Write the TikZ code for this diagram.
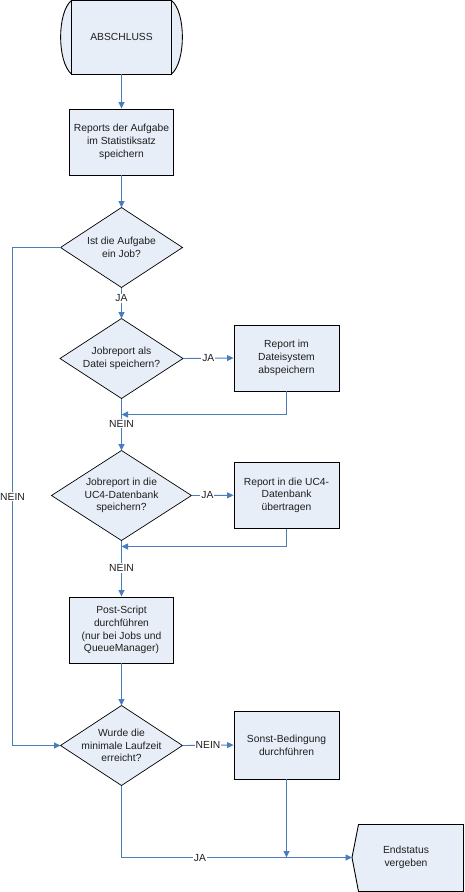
\documentclass[tikz,border=0pt]{standalone}
\usepackage{fontspec}
\setmainfont{Liberation Sans}
\usetikzlibrary{shapes.geometric,arrows.meta}
\definecolor{fillb}{RGB}{232,238,248}
\definecolor{lineb}{RGB}{74,126,187}
\definecolor{txt}{RGB}{30,30,30}
\begin{document}
\begin{tikzpicture}[x=1pt,y=-1pt,
  font=\fontsize{10.3}{12.7}\selectfont,
  every node/.style={text=txt},
  box/.style={draw=black, fill=fillb, line width=0.9pt, minimum width=104, minimum height=66, align=center, inner sep=0pt},
  dia/.style={align=center, inner sep=0pt, outer sep=0pt},
  dshape/.style={draw=black, fill=fillb, line width=0.7pt},
  conn/.style={draw=lineb, line width=0.9pt},
  arr/.style={conn, -{Triangle[length=6.5pt,width=6pt]}},
  lbl/.style={fill=white, inner sep=1pt}
]
\useasboundingbox (0,0) rectangle (464,892);

% start terminal
\path[fill=fillb, draw=black, line width=0.9pt] (71.5,0.5) .. controls (57,12) and (57,62) .. (71.5,74) -- (171.5,74) .. controls (186,62) and (186,12) .. (171.5,0.5) -- cycle;
\node (start) [draw=black, fill=fillb, line width=0.9pt, minimum width=100, minimum height=73.5, inner sep=0pt] at (121.5,37.25) {ABSCHLUSS};

\node (b1) [box] at (121.5,142) {Reports der Aufgabe\\im Statistiksatz\\speichern};

% diamonds: invisible rectangles, diamond drawn through their anchors
\node (d1) [dia, minimum width=122, minimum height=80] at (121.5,247.5) {};
\node (d2) [dia, minimum width=123, minimum height=80] at (121.5,358.5) {};
\node (d3) [dia, minimum width=140, minimum height=90] at (121.5,495.5) {};
\node (d4) [dia, minimum width=122, minimum height=80] at (121.5,745.5) {};
\foreach \d in {d1,d2,d3,d4}
  \path[dshape] (\d.north) -- (\d.east) -- (\d.south) -- (\d.west) -- cycle;
\node (t1) [align=center, inner sep=0pt] at (d1) {Ist die Aufgabe\\ein Job?};
\node (t2) [align=center, inner sep=0pt] at (d2) {Jobreport als\\Datei speichern?};
\node (t3) [align=center, inner sep=0pt] at (d3) {Jobreport in die\\UC4-Datenbank\\speichern?};
\node (t4) [align=center, inner sep=0pt] at (d4) {Wurde die\\minimale Laufzeit\\erreicht?};

\node (b2) [box, minimum width=105] at (286.5,358) {Report im\\Dateisystem\\abspeichern};
\node (b3) [box, minimum width=105] at (286.5,495.3) {Report in die UC4-\\Datenbank\\übertragen};
\node (b4) [box] at (121.5,630) {Post-Script\\durchführen\\(nur bei Jobs und\\QueueManager)};
\node (b5) [box, minimum width=105, minimum height=68] at (286.5,745) {Sonst-Bedingung\\durchführen};

% end shape
\path[fill=fillb, draw=black, line width=0.9pt] (358.5,824.5) -- (463.5,824.5) -- (463.5,891.5) -- (358.5,891.5) -- (352,857.5) -- cycle;
\node (end) [align=center, inner sep=0pt] at (406,857) {Endstatus\\vergeben};
\coordinate (endtip) at (352,857.5);

% junction coordinates
\coordinate (j1) at (121.5,414.5);
\coordinate (j2) at (121.5,546.5);
\coordinate (j3) at (286.5,857.5);
\coordinate (c1) at (12.5,247.5);
\coordinate (c2) at (12.5,745.5);
\coordinate (c3) at (121.5,857.5);

% connectors
\draw[arr] (start.south) -- (b1.north);
\draw[arr] (b1.south) -- (d1.north);
\draw[arr] (d1.south) -- node[lbl, pos=0.35] {JA} (d2.north);
\draw[arr] (d1.west) -- (c1) -- node[lbl] {NEIN} (c2) -- (d4.west);
\draw[arr] (d2.east) -- node[lbl, pos=0.5] {JA} (b2.west);
\draw[arr] (b2.south) |- (j1);
\draw[arr] (d2.south) -- node[lbl, pos=0.48] {NEIN} (d3.north);
\draw[arr] (d3.east) -- node[lbl, pos=0.38] {JA} (b3.west);
\draw[arr] (b3.south) |- (j2);
\draw[arr] (d3.south) -- node[lbl, pos=0.49] {NEIN} (b4.north);
\draw[arr] (b4.south) -- (d4.north);
\draw[arr] (d4.east) -- node[lbl, pos=0.5] {NEIN} (b5.west);
\draw[arr] (b5.south) -- (j3);
\draw[arr] (d4.south) -- (c3) -- node[lbl, pos=0.34] {JA} (endtip);
\end{tikzpicture}
\end{document}
